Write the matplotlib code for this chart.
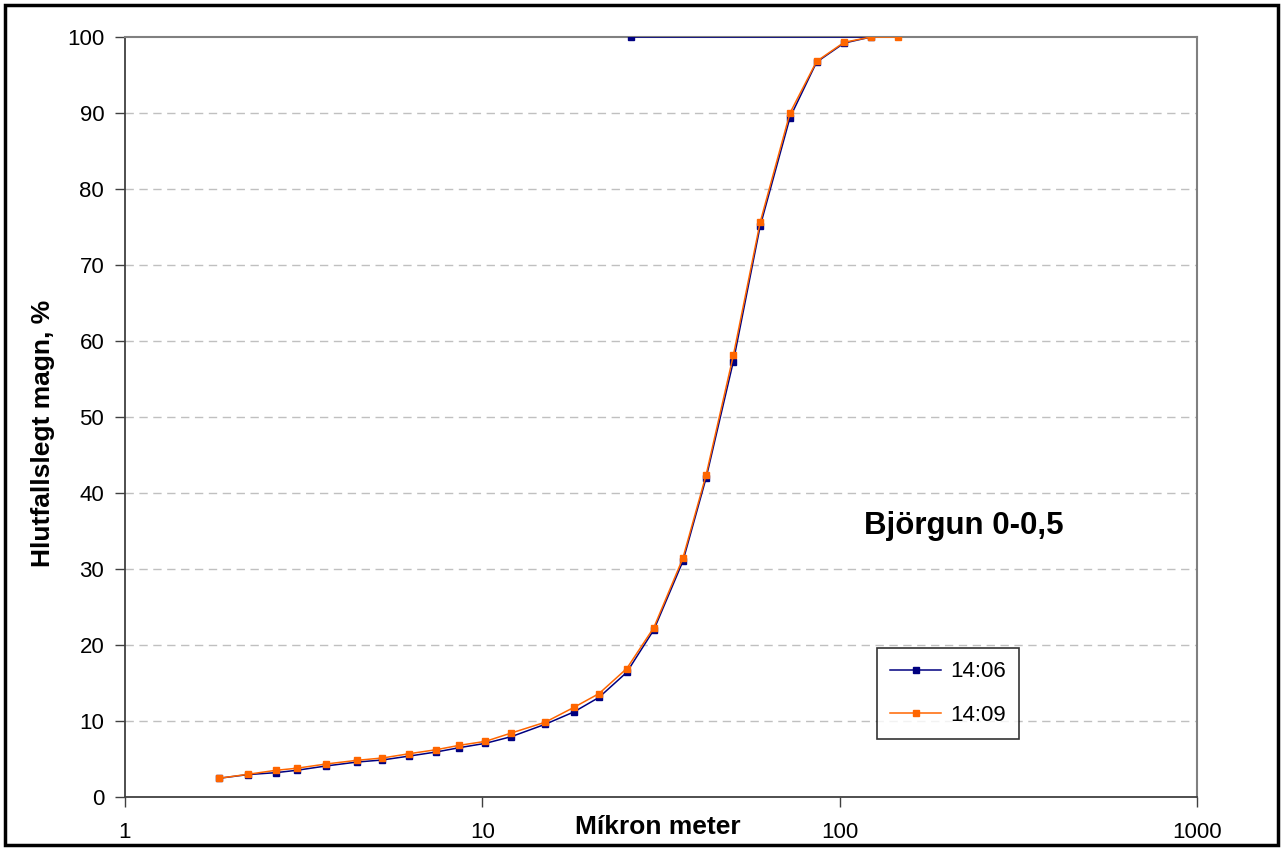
import numpy as np
import matplotlib
matplotlib.use("Agg")
import matplotlib.pyplot as plt
from matplotlib.patches import Rectangle
from matplotlib.ticker import FixedLocator, NullLocator, FixedFormatter

plt.rcParams['font.family'] = ['Liberation Sans', 'DejaVu Sans']

# particle size (micron) and cumulative passing (%)
size_1409 = [1.83, 2.21, 2.64, 3.02, 3.65, 4.46, 5.25, 6.25, 7.42, 8.62,
             10.2, 12.05, 14.98, 18.05, 21.2, 25.36, 30.2, 36.4, 42.3, 50.4,
             59.9, 72.6, 86.2, 102.9, 122.4, 146.0]
pass_1409 = [2.46, 2.99, 3.51, 3.78, 4.34, 4.83, 5.13, 5.70, 6.22, 6.80,
             7.32, 8.42, 9.83, 11.8, 13.6, 16.9, 22.3, 31.4, 42.4, 58.1,
             75.6, 90.0, 96.8, 99.3, 100.0, 100.0]

# 14:06 run, last reading logged at 26.1 micron
size_1406 = [1.83, 2.21, 2.64, 3.02, 3.65, 4.46, 5.25, 6.25, 7.42, 8.62,
             10.2, 12.05, 14.98, 18.05, 21.2, 25.36, 30.2, 36.4, 42.3, 50.4,
             59.9, 72.6, 86.2, 102.9, 122.4, 26.1]
pass_1406 = [2.46, 2.95, 3.20, 3.51, 4.08, 4.60, 4.87, 5.39, 5.92, 6.49,
             7.06, 7.94, 9.56, 11.2, 13.1, 16.4, 22.0, 31.0, 42.0, 57.3,
             75.1, 89.4, 96.7, 99.2, 100.0, 100.0]

x_ticks = [1, 10, 100, 1000]
x_labels = ['1', '10', '100', '1000']
y_ticks = list(range(0, 101, 10))

fig = plt.figure(figsize=(12.85, 8.5), dpi=100)
ax = fig.add_axes([125 / 1285, 53 / 850, 1072 / 1285, 760 / 850])

ax.plot(size_1406, pass_1406, color='#000080', lw=1.1, marker='s', ms=4.5,
        label='14:06', zorder=3)
ax.plot(size_1409, pass_1409, color='#FF6600', lw=1.1, marker='s', ms=4.5,
        label='14:09', zorder=4)

ax.set_xscale('log')
ax.set_xlim(1, 1000)
ax.set_ylim(0, 100)
ax.xaxis.set_major_locator(FixedLocator(x_ticks))
ax.xaxis.set_major_formatter(FixedFormatter(x_labels))
ax.xaxis.set_minor_locator(NullLocator())
ax.set_yticks(y_ticks)

ax.tick_params(axis='both', labelsize=16, direction='out', length=7,
               width=1, color='#404040')
ax.tick_params(axis='x', pad=11)
ax.tick_params(axis='y', pad=8)

for y in y_ticks[1:-1]:
    ax.axhline(y, color='#C0C0C0', lw=1, ls=(0, (6, 4)), zorder=1)

for s in ['top', 'right']:
    ax.spines[s].set_color('#808080')
    ax.spines[s].set_linewidth(1.5)
for s in ['left', 'bottom']:
    ax.spines[s].set_color('#404040')
    ax.spines[s].set_linewidth(1.3)

fig.text(43 / 1285, 1 - 433 / 850, 'Hlutfallslegt magn, %', rotation=90,
         fontsize=19, fontweight='bold', ha='center', va='center')
fig.text(658 / 1285, 1 - 827 / 850, 'Míkron meter', fontsize=19,
         fontweight='bold', ha='center', va='center')
fig.text(964 / 1285, 1 - 526 / 850, 'Björgun 0-0,5', fontsize=22.5,
         fontweight='bold', ha='center', va='center')

leg = ax.legend(loc='upper left', bbox_to_anchor=(0.7015, 0.196), fontsize=16,
                frameon=True, fancybox=False, handlelength=2.3,
                handletextpad=0.4, labelspacing=1.0, borderpad=0.6,
                borderaxespad=0)
leg.get_frame().set_edgecolor('black')
leg.get_frame().set_linewidth(1.2)

fig.patches.append(Rectangle((5 / 1285, 5 / 850), 1273 / 1285, 840 / 850,
                             transform=fig.transFigure, fill=False,
                             edgecolor='black', lw=2.5))

fig.savefig('out.png', dpi=100)
